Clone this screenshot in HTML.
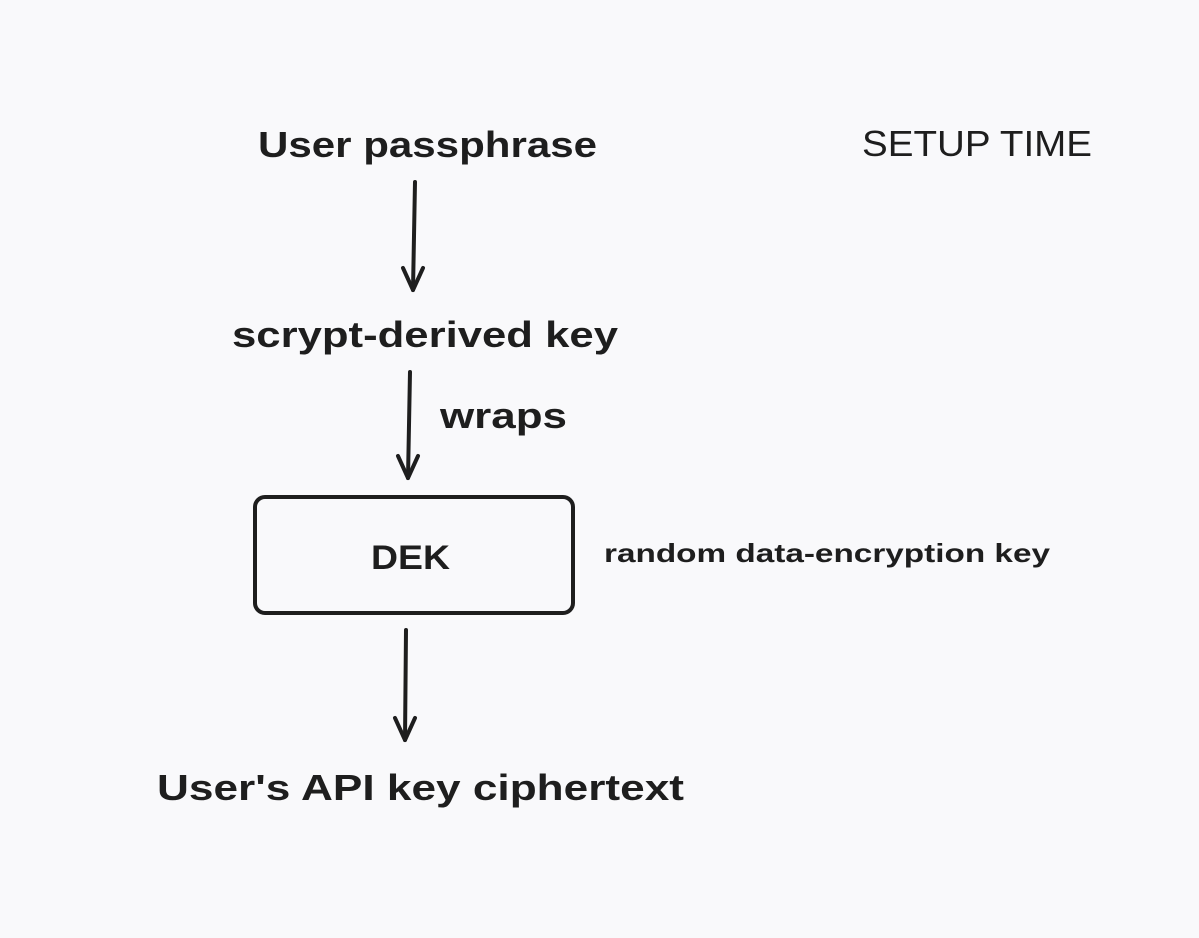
<!DOCTYPE html>
<html><head><meta charset="utf-8"><style>
html,body{margin:0;padding:0;background:#f9f9fb;}
svg{display:block;}
text{font-family:"Liberation Sans",sans-serif;fill:#1e1e1e;}
.h{font-weight:bold;}
</style></head><body>
<svg width="1199" height="938" viewBox="0 0 1199 938" xmlns="http://www.w3.org/2000/svg">
<rect width="1199" height="938" fill="#f9f9fb"/>
<g stroke="#1e1e1e" stroke-width="4" fill="none" stroke-linecap="round" stroke-linejoin="round">
<path d="M415 182 L413 290"/><path d="M403 268 L413 290 L423 268"/>
<path d="M410 372 L408 478"/><path d="M398 456 L408 478 L418 456"/>
<rect x="255" y="497" width="318" height="116" rx="10"/>
<path d="M406 630 L405 740"/><path d="M395 718 L405 740 L415 718"/>
</g>
<text class="h" x="258" y="157" font-size="36" textLength="339" lengthAdjust="spacingAndGlyphs">User passphrase</text>
<text x="862" y="156" font-size="36" textLength="230" lengthAdjust="spacingAndGlyphs">SETUP TIME</text>
<text class="h" x="232" y="347" font-size="36" textLength="386" lengthAdjust="spacingAndGlyphs">scrypt-derived key</text>
<text class="h" x="440" y="428" font-size="36" textLength="127" lengthAdjust="spacingAndGlyphs">wraps</text>
<text class="h" x="371" y="569" font-size="34" textLength="79" lengthAdjust="spacingAndGlyphs">DEK</text>
<text class="h" x="604" y="562" font-size="26" textLength="446" lengthAdjust="spacingAndGlyphs">random data-encryption key</text>
<text class="h" x="157" y="800" font-size="36" textLength="527" lengthAdjust="spacingAndGlyphs">User's API key ciphertext</text>
</svg>
</body></html>
